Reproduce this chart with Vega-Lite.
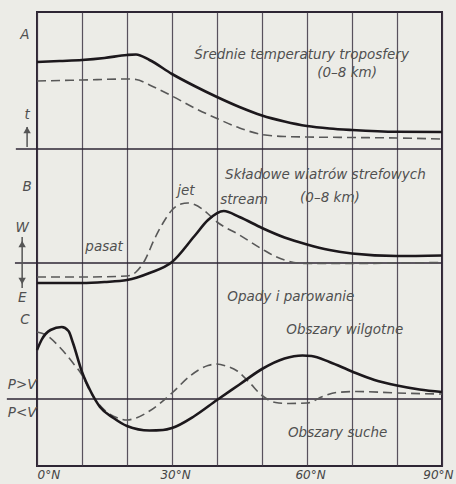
{
  "$schema": "https://vega.github.io/schema/vega-lite/v6.json",
  "width": 405,
  "height": 454,
  "autosize": {"type": "none"},
  "padding": {"left": 37, "top": 12, "right": 14, "bottom": 18},
  "background": "#ecece7",
  "config": {
    "view": {"stroke": "#2e2634", "strokeWidth": 2},
    "text": {"font": "DejaVu Sans", "fontStyle": "italic", "fontSize": 13.5, "color": "#505050"}
  },
  "datasets": {
    "curves": [
      {"p": "A", "s": "solid", "lat": 0, "v": 8.7}, {"p": "A", "s": "solid", "lat": 5, "v": 8.8}, {"p": "A", "s": "solid", "lat": 10, "v": 8.9}, {"p": "A", "s": "solid", "lat": 15, "v": 9.1}, {"p": "A", "s": "solid", "lat": 20, "v": 9.4}, {"p": "A", "s": "solid", "lat": 22, "v": 9.45}, {"p": "A", "s": "solid", "lat": 25, "v": 8.9}, {"p": "A", "s": "solid", "lat": 30, "v": 7.5}, {"p": "A", "s": "solid", "lat": 35, "v": 6.3}, {"p": "A", "s": "solid", "lat": 40, "v": 5.2}, {"p": "A", "s": "solid", "lat": 45, "v": 4.2}, {"p": "A", "s": "solid", "lat": 50, "v": 3.35}, {"p": "A", "s": "solid", "lat": 55, "v": 2.75}, {"p": "A", "s": "solid", "lat": 60, "v": 2.3}, {"p": "A", "s": "solid", "lat": 65, "v": 2.05}, {"p": "A", "s": "solid", "lat": 70, "v": 1.9}, {"p": "A", "s": "solid", "lat": 80, "v": 1.72}, {"p": "A", "s": "solid", "lat": 90, "v": 1.7},
      {"p": "A", "s": "dashed", "lat": 0, "v": 6.8}, {"p": "A", "s": "dashed", "lat": 10, "v": 6.9}, {"p": "A", "s": "dashed", "lat": 20, "v": 7.0}, {"p": "A", "s": "dashed", "lat": 22, "v": 6.95}, {"p": "A", "s": "dashed", "lat": 25, "v": 6.4}, {"p": "A", "s": "dashed", "lat": 30, "v": 5.3}, {"p": "A", "s": "dashed", "lat": 35, "v": 4.1}, {"p": "A", "s": "dashed", "lat": 40, "v": 3.05}, {"p": "A", "s": "dashed", "lat": 45, "v": 2.1}, {"p": "A", "s": "dashed", "lat": 50, "v": 1.45}, {"p": "A", "s": "dashed", "lat": 55, "v": 1.25}, {"p": "A", "s": "dashed", "lat": 60, "v": 1.2}, {"p": "A", "s": "dashed", "lat": 70, "v": 1.15}, {"p": "A", "s": "dashed", "lat": 80, "v": 1.1}, {"p": "A", "s": "dashed", "lat": 90, "v": 1.0},
      {"p": "B", "s": "solid", "lat": 0, "v": -2.0}, {"p": "B", "s": "solid", "lat": 10, "v": -2.0}, {"p": "B", "s": "solid", "lat": 15, "v": -1.9}, {"p": "B", "s": "solid", "lat": 20, "v": -1.7}, {"p": "B", "s": "solid", "lat": 25, "v": -1.0}, {"p": "B", "s": "solid", "lat": 30, "v": 0.1}, {"p": "B", "s": "solid", "lat": 35, "v": 2.7}, {"p": "B", "s": "solid", "lat": 38, "v": 4.3}, {"p": "B", "s": "solid", "lat": 41.5, "v": 5.2}, {"p": "B", "s": "solid", "lat": 45, "v": 4.6}, {"p": "B", "s": "solid", "lat": 50, "v": 3.5}, {"p": "B", "s": "solid", "lat": 55, "v": 2.55}, {"p": "B", "s": "solid", "lat": 60, "v": 1.85}, {"p": "B", "s": "solid", "lat": 65, "v": 1.3}, {"p": "B", "s": "solid", "lat": 70, "v": 0.95}, {"p": "B", "s": "solid", "lat": 80, "v": 0.7}, {"p": "B", "s": "solid", "lat": 90, "v": 0.75},
      {"p": "B", "s": "dashed", "lat": 0, "v": -1.4}, {"p": "B", "s": "dashed", "lat": 10, "v": -1.4}, {"p": "B", "s": "dashed", "lat": 20, "v": -1.3}, {"p": "B", "s": "dashed", "lat": 22, "v": -0.9}, {"p": "B", "s": "dashed", "lat": 24, "v": 0.3}, {"p": "B", "s": "dashed", "lat": 26, "v": 2.3}, {"p": "B", "s": "dashed", "lat": 28, "v": 4.0}, {"p": "B", "s": "dashed", "lat": 30, "v": 5.3}, {"p": "B", "s": "dashed", "lat": 32, "v": 5.9}, {"p": "B", "s": "dashed", "lat": 33.5, "v": 6.0}, {"p": "B", "s": "dashed", "lat": 35, "v": 5.85}, {"p": "B", "s": "dashed", "lat": 37, "v": 5.3}, {"p": "B", "s": "dashed", "lat": 40, "v": 4.1}, {"p": "B", "s": "dashed", "lat": 45, "v": 2.8}, {"p": "B", "s": "dashed", "lat": 50, "v": 1.4}, {"p": "B", "s": "dashed", "lat": 53, "v": 0.65}, {"p": "B", "s": "dashed", "lat": 55, "v": 0.3}, {"p": "B", "s": "dashed", "lat": 58, "v": 0.0}, {"p": "B", "s": "dashed", "lat": 60, "v": -0.05}, {"p": "B", "s": "dashed", "lat": 70, "v": -0.05}, {"p": "B", "s": "dashed", "lat": 80, "v": 0.0}, {"p": "B", "s": "dashed", "lat": 90, "v": 0.05},
      {"p": "C", "s": "solid", "lat": 0, "v": 4.9}, {"p": "C", "s": "solid", "lat": 1, "v": 5.9}, {"p": "C", "s": "solid", "lat": 3, "v": 6.9}, {"p": "C", "s": "solid", "lat": 5.5, "v": 7.2}, {"p": "C", "s": "solid", "lat": 7, "v": 6.8}, {"p": "C", "s": "solid", "lat": 8, "v": 5.6}, {"p": "C", "s": "solid", "lat": 10, "v": 2.7}, {"p": "C", "s": "solid", "lat": 12, "v": 0.7}, {"p": "C", "s": "solid", "lat": 14, "v": -0.8}, {"p": "C", "s": "solid", "lat": 17, "v": -1.9}, {"p": "C", "s": "solid", "lat": 20, "v": -2.7}, {"p": "C", "s": "solid", "lat": 25, "v": -3.15}, {"p": "C", "s": "solid", "lat": 28, "v": -3.1}, {"p": "C", "s": "solid", "lat": 30, "v": -2.9}, {"p": "C", "s": "solid", "lat": 35, "v": -1.7}, {"p": "C", "s": "solid", "lat": 40, "v": -0.1}, {"p": "C", "s": "solid", "lat": 45, "v": 1.45}, {"p": "C", "s": "solid", "lat": 50, "v": 3.0}, {"p": "C", "s": "solid", "lat": 55, "v": 4.05}, {"p": "C", "s": "solid", "lat": 59, "v": 4.35}, {"p": "C", "s": "solid", "lat": 61, "v": 4.3}, {"p": "C", "s": "solid", "lat": 65, "v": 3.7}, {"p": "C", "s": "solid", "lat": 70, "v": 2.75}, {"p": "C", "s": "solid", "lat": 75, "v": 1.9}, {"p": "C", "s": "solid", "lat": 80, "v": 1.35}, {"p": "C", "s": "solid", "lat": 85, "v": 0.95}, {"p": "C", "s": "solid", "lat": 90, "v": 0.7},
      {"p": "C", "s": "dashed", "lat": 0, "v": 6.7}, {"p": "C", "s": "dashed", "lat": 2, "v": 6.4}, {"p": "C", "s": "dashed", "lat": 5, "v": 5.2}, {"p": "C", "s": "dashed", "lat": 8, "v": 3.6}, {"p": "C", "s": "dashed", "lat": 10, "v": 2.4}, {"p": "C", "s": "dashed", "lat": 12, "v": 0.6}, {"p": "C", "s": "dashed", "lat": 15, "v": -1.1}, {"p": "C", "s": "dashed", "lat": 18, "v": -1.9}, {"p": "C", "s": "dashed", "lat": 20, "v": -2.1}, {"p": "C", "s": "dashed", "lat": 22, "v": -1.9}, {"p": "C", "s": "dashed", "lat": 25, "v": -1.2}, {"p": "C", "s": "dashed", "lat": 30, "v": 0.6}, {"p": "C", "s": "dashed", "lat": 34, "v": 2.3}, {"p": "C", "s": "dashed", "lat": 38, "v": 3.35}, {"p": "C", "s": "dashed", "lat": 40, "v": 3.5}, {"p": "C", "s": "dashed", "lat": 42, "v": 3.3}, {"p": "C", "s": "dashed", "lat": 44.5, "v": 2.8}, {"p": "C", "s": "dashed", "lat": 47.3, "v": 1.6}, {"p": "C", "s": "dashed", "lat": 50, "v": 0.35}, {"p": "C", "s": "dashed", "lat": 53, "v": -0.35}, {"p": "C", "s": "dashed", "lat": 56, "v": -0.45}, {"p": "C", "s": "dashed", "lat": 60, "v": -0.4}, {"p": "C", "s": "dashed", "lat": 63.5, "v": 0.25}, {"p": "C", "s": "dashed", "lat": 66.5, "v": 0.65}, {"p": "C", "s": "dashed", "lat": 71, "v": 0.75}, {"p": "C", "s": "dashed", "lat": 80, "v": 0.6}, {"p": "C", "s": "dashed", "lat": 90, "v": 0.5}
    ],
    "labels": [
      {"p": "A", "t": "Średnie temperatury troposfery", "lat": 58.8, "v": 9.4},
      {"p": "A", "t": "(0–8 km)", "lat": 68.9, "v": 7.6},
      {"p": "A", "t": "A", "lat": -2.7, "v": 11.4},
      {"p": "A", "t": "t", "lat": -2.2, "v": 3.4},
      {"p": "B", "t": "Składowe wiatrów strefowych", "lat": 64.1, "v": 8.8},
      {"p": "B", "t": "(0–8 km)", "lat": 65.1, "v": 6.5},
      {"p": "B", "t": "jet", "lat": 33.1, "v": 7.2},
      {"p": "B", "t": "stream", "lat": 46, "v": 6.3},
      {"p": "B", "t": "pasat", "lat": 14.9, "v": 1.6},
      {"p": "B", "t": "B", "lat": -2.2, "v": 7.6},
      {"p": "B", "t": "W", "lat": -3.3, "v": 3.5},
      {"p": "B", "t": "E", "lat": -3.3, "v": -3.5},
      {"p": "C", "t": "Opady i parowanie", "lat": 56.4, "v": 10.2},
      {"p": "C", "t": "Obszary wilgotne", "lat": 68.4, "v": 6.9},
      {"p": "C", "t": "Obszary suche", "lat": 66.8, "v": -3.4},
      {"p": "C", "t": "C", "lat": -2.7, "v": 7.9},
      {"p": "C", "t": "P>V", "lat": -3.3, "v": 1.4},
      {"p": "C", "t": "P<V", "lat": -3.3, "v": -1.4}
    ],
    "baselines": [
      {"p": "A", "lat": -4.7, "lat2": 90, "v": 0},
      {"p": "B", "lat": -4.9, "lat2": 90, "v": 0},
      {"p": "C", "lat": -6.7, "lat2": 90, "v": 0}
    ],
    "arrows": [
      {"p": "A", "lat": -2.2, "v": 0.2, "v2": 2.2},
      {"p": "B", "lat": -3.3, "v": 2.6, "v2": -2.5}
    ],
    "heads": [
      {"p": "A", "dir": "up", "lat": -2.2, "v": 1.9},
      {"p": "B", "dir": "up", "lat": -3.3, "v": 1.9},
      {"p": "B", "dir": "down", "lat": -3.3, "v": -1.8}
    ]
  },
  "encoding": {
    "x": {
      "field": "lat",
      "type": "quantitative",
      "scale": {"domain": [0, 90], "nice": false, "zero": false},
      "axis": {
        "title": null,
        "values": [0, 10, 20, 30, 40, 50, 60, 70, 80, 90],
        "labelExpr": "datum.value % 30 === 0 ? datum.value + '°N' : ''",
        "labelAlign": {"expr": "datum.value === 0 ? 'left' : (datum.value === 90 ? 'right' : 'center')"},
        "labelOffset": {"expr": "datum.value === 90 ? 11 : (datum.value === 30 || datum.value === 60 ? 3 : 0)"},
        "grid": true,
        "gridColor": "#3e3644",
        "gridWidth": 1.2,
        "gridOpacity": 0.85,
        "ticks": false,
        "domain": false,
        "labelFont": "DejaVu Sans",
        "labelFontStyle": "italic",
        "labelFontSize": 12,
        "labelColor": "#454545",
        "labelPadding": 3,
        "labelFlush": false
      }
    }
  },
  "layer": [
    {
      "encoding": {"y": {"field": "v", "type": "quantitative", "scale": {"domain": [-31.7, 13.7], "nice": false, "zero": false}, "axis": null}},
      "layer": [
        {"data": {"name": "baselines"}, "transform": [{"filter": "datum.p === 'A'"}], "mark": {"type": "rule", "color": "#2e2634", "strokeWidth": 1.6}, "encoding": {"x2": {"field": "lat2"}}},
        {"data": {"name": "curves"}, "transform": [{"filter": "datum.p === 'A' && datum.s === 'dashed'"}], "mark": {"type": "line", "interpolate": "monotone", "color": "#585858", "strokeWidth": 1.6, "strokeDash": [9, 5]}},
        {"data": {"name": "curves"}, "transform": [{"filter": "datum.p === 'A' && datum.s === 'solid'"}], "mark": {"type": "line", "interpolate": "monotone", "color": "#1c181c", "strokeWidth": 2.6}},
        {"data": {"name": "arrows"}, "transform": [{"filter": "datum.p === 'A'"}], "mark": {"type": "rule", "color": "#555555", "strokeWidth": 1.5}, "encoding": {"y2": {"field": "v2"}}},
        {"data": {"name": "heads"}, "transform": [{"filter": "datum.p === 'A'"}], "mark": {"type": "point", "filled": true, "color": "#555555", "size": 55, "opacity": 1}, "encoding": {"shape": {"field": "dir", "type": "nominal", "scale": {"domain": ["up", "down"], "range": ["triangle-up", "triangle-down"]}, "legend": null}}},
        {"data": {"name": "labels"}, "transform": [{"filter": "datum.p === 'A'"}], "mark": {"type": "text"}, "encoding": {"text": {"field": "t"}}}
      ]
    },
    {
      "encoding": {"y": {"field": "v", "type": "quantitative", "scale": {"domain": [-20.3, 25.1], "nice": false, "zero": false}, "axis": null}},
      "layer": [
        {"data": {"name": "baselines"}, "transform": [{"filter": "datum.p === 'B'"}], "mark": {"type": "rule", "color": "#2e2634", "strokeWidth": 1.6}, "encoding": {"x2": {"field": "lat2"}}},
        {"data": {"name": "curves"}, "transform": [{"filter": "datum.p === 'B' && datum.s === 'dashed'"}], "mark": {"type": "line", "interpolate": "monotone", "color": "#585858", "strokeWidth": 1.6, "strokeDash": [9, 5]}},
        {"data": {"name": "curves"}, "transform": [{"filter": "datum.p === 'B' && datum.s === 'solid'"}], "mark": {"type": "line", "interpolate": "monotone", "color": "#1c181c", "strokeWidth": 2.6}},
        {"data": {"name": "arrows"}, "transform": [{"filter": "datum.p === 'B'"}], "mark": {"type": "rule", "color": "#555555", "strokeWidth": 1.5}, "encoding": {"y2": {"field": "v2"}}},
        {"data": {"name": "heads"}, "transform": [{"filter": "datum.p === 'B'"}], "mark": {"type": "point", "filled": true, "color": "#555555", "size": 55, "opacity": 1}, "encoding": {"shape": {"field": "dir", "type": "nominal", "scale": {"domain": ["up", "down"], "range": ["triangle-up", "triangle-down"]}, "legend": null}}},
        {"data": {"name": "labels"}, "transform": [{"filter": "datum.p === 'B'"}], "mark": {"type": "text"}, "encoding": {"text": {"field": "t"}}}
      ]
    },
    {
      "encoding": {"y": {"field": "v", "type": "quantitative", "scale": {"domain": [-6.7, 38.7], "nice": false, "zero": false}, "axis": null}},
      "layer": [
        {"data": {"name": "baselines"}, "transform": [{"filter": "datum.p === 'C'"}], "mark": {"type": "rule", "color": "#2e2634", "strokeWidth": 1.6}, "encoding": {"x2": {"field": "lat2"}}},
        {"data": {"name": "curves"}, "transform": [{"filter": "datum.p === 'C' && datum.s === 'dashed'"}], "mark": {"type": "line", "interpolate": "monotone", "color": "#585858", "strokeWidth": 1.6, "strokeDash": [9, 5]}},
        {"data": {"name": "curves"}, "transform": [{"filter": "datum.p === 'C' && datum.s === 'solid'"}], "mark": {"type": "line", "interpolate": "monotone", "color": "#1c181c", "strokeWidth": 2.6}},
        {"data": {"name": "labels"}, "transform": [{"filter": "datum.p === 'C'"}], "mark": {"type": "text"}, "encoding": {"text": {"field": "t"}}}
      ]
    }
  ],
  "resolve": {"scale": {"y": "independent"}}
}
